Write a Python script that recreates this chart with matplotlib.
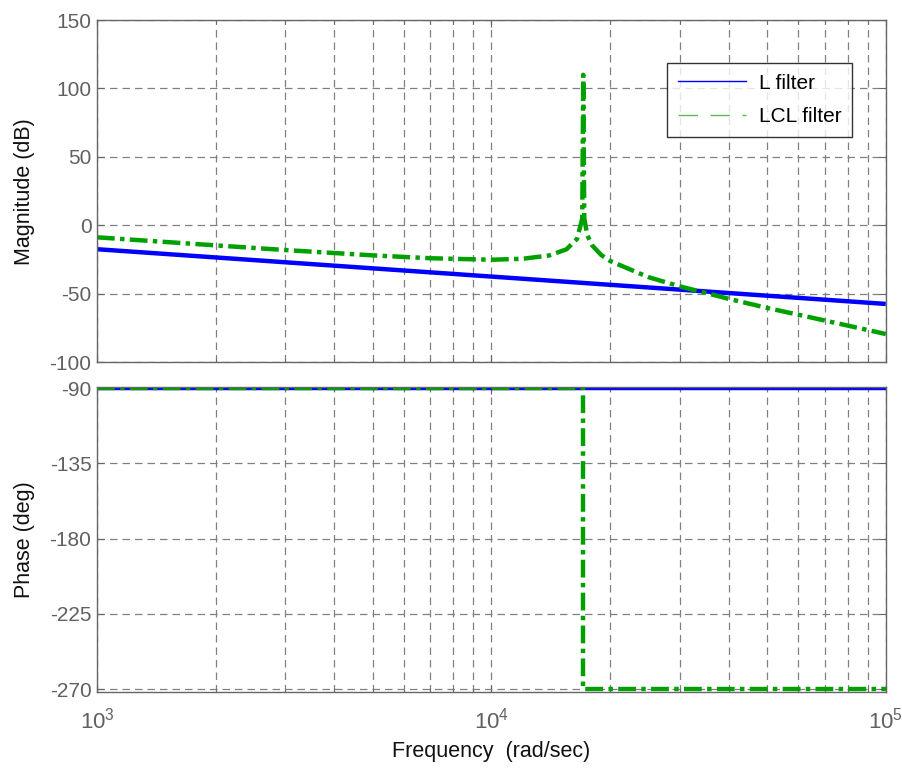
import numpy as np
import matplotlib
matplotlib.use("Agg")
import matplotlib.pyplot as plt
from matplotlib.lines import Line2D
from matplotlib.ticker import LogLocator, FixedLocator, NullFormatter, FixedFormatter

plt.rcParams["font.family"] = ["Liberation Sans", "DejaVu Sans"]
plt.rcParams["axes.unicode_minus"] = False
plt.rcParams["mathtext.fontset"] = "custom"
plt.rcParams["mathtext.rm"] = "Liberation Sans"

# ---------------------------------------------------------------
# valores (Bode de filtro L e LCL)
# ---------------------------------------------------------------
freq_L = [1e3, 1e4, 1e5]
mag_L = [-17.5, -37.5, -57.5]
phase_L = [-90, -90, -90]

freq_LCL = [1000, 2000, 3000, 5000, 7000, 10000, 12000, 14000, 15500,
            16500, 17000, 17100, 17200, 17500, 18000, 19000, 20000,
            25000, 30000, 40000, 50000, 70000, 100000]
mag_LCL = [-8.8, -14.7, -18.1, -22.0, -24.1, -25.2, -24.5, -22.1, -17.6,
           -9.9, 5.0, 110.0, 5.1, -7.1, -14.6, -21.8, -26.1,
           -37.9, -44.6, -53.8, -60.4, -69.6, -79.5]
freq_LCL_ph = [1e3, 17100, 17100, 1e5]
phase_LCL = [-90, -90, -270, -270]

azul = "#0000ff"
verde = "#00a000"
cinza = "#666666"
tracejado = (0, (4, 1.2, 1, 1.2))

fig = plt.figure(figsize=(9.02, 7.72), dpi=100)
ax1 = fig.add_axes([0.1075, 0.531, 0.8745, 0.443])
ax2 = fig.add_axes([0.1075, 0.1036, 0.8745, 0.3951])

ax1.plot(freq_L, mag_L, color=azul, lw=3.2, solid_capstyle="butt")
ax1.plot(freq_LCL, mag_LCL, color=verde, lw=3.2, ls=tracejado)
ax2.plot(freq_L, phase_L, color=azul, lw=3.2)
ax2.plot(freq_LCL_ph, phase_LCL, color=verde, lw=3.2, ls=tracejado)

for ax in (ax1, ax2):
    ax.set_xscale("log")
    ax.set_xlim(1e3, 1e5)
    ax.xaxis.set_major_locator(FixedLocator([1e3, 1e4, 1e5]))
    ax.xaxis.set_minor_locator(LogLocator(base=10, subs=np.arange(2, 10), numticks=20))
    ax.xaxis.set_minor_formatter(NullFormatter())
    ax.grid(True, which="both", axis="x", color="#808080", ls=(0, (6, 4)), lw=0.9)
    ax.grid(True, which="major", axis="y", color="#808080", ls=(0, (6, 4)), lw=0.9)
    ax.tick_params(which="both", direction="in", top=True, right=True,
                   colors=cinza, labelcolor="#606060", labelsize=15)
    ax.tick_params(which="major", length=5, pad=4)
    ax.tick_params(which="minor", length=3)
    for s in ax.spines.values():
        s.set_color(cinza)
        s.set_linewidth(1.0)

ax1.set_ylim(-100, 150)
ax1.set_yticks([-100, -50, 0, 50, 100, 150])
ax1.xaxis.set_major_formatter(NullFormatter())

ax2.set_ylim(-271.8, -89.4)
ax2.set_yticks([-270, -225, -180, -135, -90])
ax2.xaxis.set_major_formatter(FixedFormatter([r"$\mathregular{10^{3}}$",
                                              r"$\mathregular{10^{4}}$",
                                              r"$\mathregular{10^{5}}$"]))
ax2.tick_params(axis="x", which="major", pad=11, labelsize=16)

fig.text(0.027, 0.752, "Magnitude (dB)", rotation=90, ha="center", va="center",
         fontsize=15.5, color="#111111")
fig.text(0.027, 0.301, "Phase (deg)", rotation=90, ha="center", va="center",
         fontsize=15.5, color="#111111")
fig.text(0.545, 0.026, "Frequency  (rad/sec)", ha="center", va="center",
         fontsize=15.5, color="#111111")

handles = [Line2D([], [], color=azul, lw=1.0),
           Line2D([], [], color="#50c050", lw=1.0, ls=(0, (14, 9)))]
leg = ax1.legend(handles, ["L filter", "LCL filter"], loc="upper right",
                 bbox_to_anchor=(0.957, 0.874), fontsize=15, frameon=True,
                 fancybox=False, edgecolor="black", handlelength=3.3,
                 handletextpad=0.6, borderpad=0.5, labelspacing=0.7,
                 borderaxespad=0.0)
leg.get_frame().set_linewidth(1.0)

fig.savefig("out.png", dpi=100)
